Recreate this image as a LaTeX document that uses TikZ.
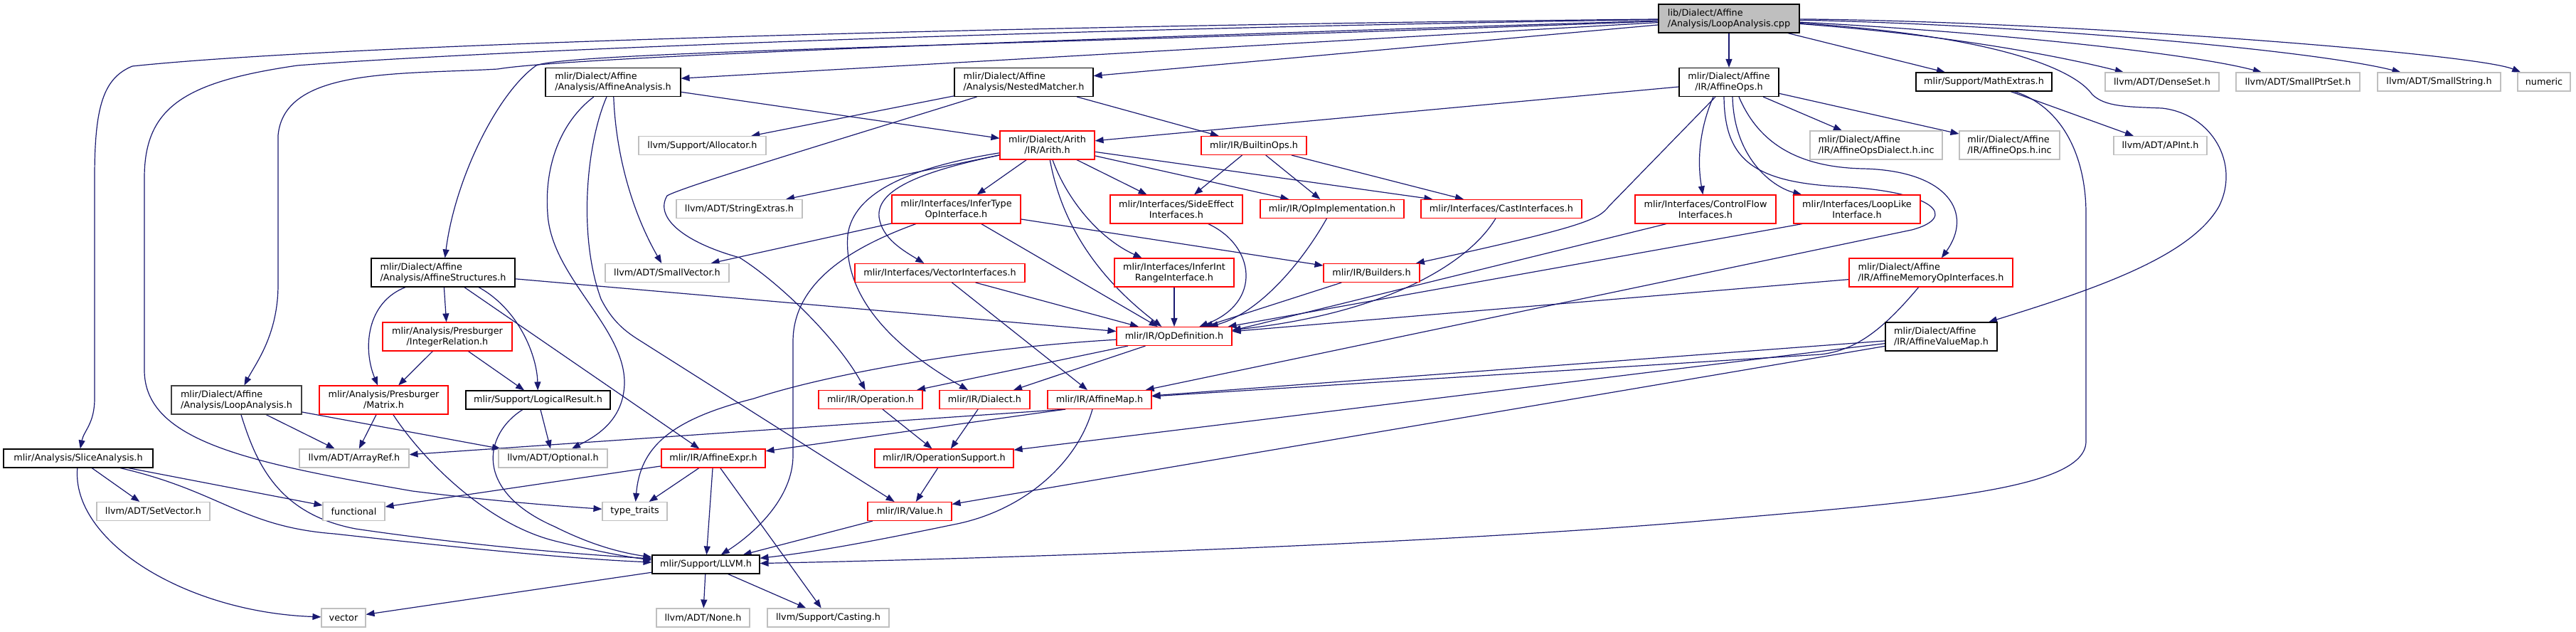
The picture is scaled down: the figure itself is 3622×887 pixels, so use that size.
\documentclass[tikz,border=0pt]{standalone}
\usepackage{fontspec}
\setmainfont{DejaVu Sans}
\usetikzlibrary{arrows.meta,backgrounds}
\definecolor{edgeblue}{HTML}{191970}
\definecolor{greyb}{HTML}{BFBFBF}
\definecolor{darkb}{HTML}{404040}
\tikzset{
  nb/.style={rectangle, draw, fill=white, inner sep=0pt, line width=1.1pt,
    font=\fontsize{12.8}{15}\selectfont, text=black},
  blk/.style={nb, draw=black},
  rd/.style={nb, draw=red},
  gr/.style={nb, draw=greyb},
  rootn/.style={nb, draw=black, fill=greyb},
  lineone/.style={minimum height=26pt},
  linetwo/.style={minimum height=40pt},
  e/.style={draw=edgeblue, line width=1.2pt, -{Triangle[length=12pt,width=9pt]}},
}
\begin{document}
\begin{tikzpicture}[x=1pt,y=-1pt]
\useasboundingbox (0,0) rectangle (3622,887);
% ---------- nodes ----------
\node[rootn, linetwo, align=left, minimum width=198pt] (root) at (2431,26) {lib/Dialect/Affine\\/Analysis/LoopAnalysis.cpp};
\node[blk, linetwo, align=left, minimum width=190pt] (AA) at (862,115.5) {mlir/Dialect/Affine\\/Analysis/AffineAnalysis.h};
\node[blk, linetwo, align=left, minimum width=195pt] (NM) at (1439.5,115.5) {mlir/Dialect/Affine\\/Analysis/NestedMatcher.h};
\node[blk, linetwo, align=center, minimum width=140pt] (AO) at (2431,115.5) {mlir/Dialect/Affine\\/IR/AffineOps.h};
\node[blk, lineone, minimum width=191pt] (ME) at (2789.5,115) {mlir/Support/MathExtras.h};
\node[gr, lineone, minimum width=160pt] (DenseSet) at (3040,115) {llvm/ADT/DenseSet.h};
\node[gr, lineone, minimum width=174pt] (SmallPtrSet) at (3231,115) {llvm/ADT/SmallPtrSet.h};
\node[gr, lineone, minimum width=173pt] (SmallString) at (3429.5,115) {llvm/ADT/SmallString.h};
\node[gr, lineone, minimum width=74pt] (numeric) at (3577,115) {numeric};
\node[gr, lineone, minimum width=179pt] (Allocator) at (987.5,204.5) {llvm/Support/Allocator.h};
\node[rd, linetwo, align=center, minimum width=133pt] (Arith) at (1472.5,204) {mlir/Dialect/Arith\\/IR/Arith.h};
\node[rd, lineone, minimum width=148pt] (BuiltinOps) at (1763,204.5) {mlir/IR/BuiltinOps.h};
\node[gr, linetwo, align=left, minimum width=186pt] (AODialect) at (2638,204) {mlir/Dialect/Affine\\/IR/AffineOpsDialect.h.inc};
\node[gr, linetwo, align=left, minimum width=141pt] (AOinc) at (2825.5,204) {mlir/Dialect/Affine\\/IR/AffineOps.h.inc};
\node[gr, lineone, minimum width=131pt] (APInt) at (3037.5,204.5) {llvm/ADT/APInt.h};
\node[gr, lineone, minimum width=177pt] (StringExtras) at (1039.5,293.5) {llvm/ADT/StringExtras.h};
\node[rd, linetwo, align=center, minimum width=181pt] (IT) at (1344.5,294) {mlir/Interfaces/InferType\\OpInterface.h};
\node[rd, linetwo, align=center, minimum width=186pt] (SideEffect) at (1654,294) {mlir/Interfaces/SideEffect\\Interfaces.h};
\node[rd, lineone, minimum width=202pt] (OpImpl) at (1873,293.5) {mlir/IR/OpImplementation.h};
\node[rd, lineone, minimum width=226pt] (Cast) at (2111,293.5) {mlir/Interfaces/CastInterfaces.h};
\node[rd, linetwo, align=center, minimum width=198pt] (ControlFlow) at (2398,294) {mlir/Interfaces/ControlFlow\\Interfaces.h};
\node[rd, linetwo, align=center, minimum width=178pt] (LoopLike) at (2611,294) {mlir/Interfaces/LoopLike\\Interface.h};
\node[blk, linetwo, align=left, minimum width=202pt] (AS) at (623,383) {mlir/Dialect/Affine\\/Analysis/AffineStructures.h};
\node[gr, lineone, minimum width=174pt] (SmallVector) at (938,383.5) {llvm/ADT/SmallVector.h};
\node[rd, lineone, minimum width=239pt] (VectorIf) at (1321.5,383.5) {mlir/Interfaces/VectorInterfaces.h};
\node[rd, linetwo, align=center, minimum width=168pt] (InferIntRange) at (1651,383) {mlir/Interfaces/InferInt\\RangeInterface.h};
\node[rd, lineone, minimum width=135pt] (Builders) at (1928.5,383.5) {mlir/IR/Builders.h};
\node[rd, linetwo, align=left, minimum width=230pt] (AffineMemOp) at (2715,383) {mlir/Dialect/Affine\\/IR/AffineMemoryOpInterfaces.h};
\node[rd, linetwo, align=center, minimum width=182pt] (IntegerRelation) at (629,473) {mlir/Analysis/Presburger\\/IntegerRelation.h};
\node[rd, lineone, minimum width=162pt] (OD) at (1651,472.5) {mlir/IR/OpDefinition.h};
\node[blk, linetwo, align=left, minimum width=157pt] (AV) at (2729.5,473) {mlir/Dialect/Affine\\/IR/AffineValueMap.h};
\node[nb, draw=darkb, linetwo, align=left, minimum width=183pt] (LA) at (332.5,562) {mlir/Dialect/Affine\\/Analysis/LoopAnalysis.h};
\node[rd, linetwo, align=center, minimum width=181pt] (Matrix) at (539.5,562) {mlir/Analysis/Presburger\\/Matrix.h};
\node[blk, lineone, minimum width=203pt] (LR) at (756.5,562) {mlir/Support/LogicalResult.h};
\node[rd, lineone, minimum width=146pt] (Operation) at (1224,561.5) {mlir/IR/Operation.h};
\node[rd, lineone, minimum width=127pt] (Dialect) at (1384.5,561.5) {mlir/IR/Dialect.h};
\node[rd, lineone, minimum width=146pt] (AffineMap) at (1546,561.5) {mlir/IR/AffineMap.h};
\node[blk, lineone, minimum width=210pt] (SA) at (110,644) {mlir/Analysis/SliceAnalysis.h};
\node[gr, lineone, minimum width=154pt] (ArrayRef) at (498,644) {llvm/ADT/ArrayRef.h};
\node[gr, lineone, minimum width=153pt] (Optional) at (777.5,644) {llvm/ADT/Optional.h};
\node[rd, lineone, minimum width=146pt] (AffineExpr) at (1003,644) {mlir/IR/AffineExpr.h};
\node[rd, lineone, minimum width=195pt] (OS) at (1327.5,644) {mlir/IR/OperationSupport.h};
\node[gr, lineone, minimum width=159pt] (SetVector) at (215.5,718.5) {llvm/ADT/SetVector.h};
\node[gr, lineone, minimum width=87pt] (func) at (497.5,718.5) {functional};
\node[gr, lineone, minimum width=91pt] (tt) at (892.5,718.5) {type\_traits};
\node[rd, lineone, minimum width=118pt] (Value) at (1279,718.5) {mlir/IR/Value.h};
\node[blk, lineone, minimum width=151pt] (LLVM) at (992.5,793) {mlir/Support/LLVM.h};
\node[gr, lineone, minimum width=62pt] (vec) at (483,868) {vector};
\node[gr, lineone, minimum width=131pt] (None) at (988.5,868) {llvm/ADT/None.h};
\node[gr, lineone, minimum width=171pt] (Casting) at (1164.5,868) {llvm/Support/Casting.h};
% ---------- edges ----------
\begin{scope}[on background layer]
% root
\draw[e] (root) -- (AA);
\draw[e] (root) -- (NM);
\draw[e] (root) -- (AO);
\draw[e] (root) -- (ME);
\draw[e] (root) .. controls (2750,50) and (2900,80) .. (DenseSet);
\draw[e] (root) .. controls (2800,45) and (3080,75) .. (SmallPtrSet);
\draw[e] (root) .. controls (2850,35) and (3250,70) .. (SmallString);
\draw[e] (root) .. controls (2900,30) and (3480,75) .. (numeric);
\draw[e] (root) .. controls (2800,50) and (2915,95) .. (2942,133) .. controls (2960,150) and (2990,150) .. (3040,152) .. controls (3110,160) and (3150,230) .. (3120,290) .. controls (3080,360) and (2950,405) .. (AV);
\draw[e] (root) .. controls (1500,62) and (800,72) .. (754,92) .. controls (700,130) and (640,250) .. (AS);
\draw[e] (root) .. controls (1500,55) and (800,80) .. (700,97) .. controls (560,105) and (400,95) .. (391,190) -- (391,400) .. controls (391,470) and (360,510) .. (LA);
\draw[e] (root) .. controls (1500,35) and (500,60) .. (186,93) .. controls (145,110) and (133,150) .. (133,250) -- (133,560) .. controls (133,595) and (118,605) .. (SA);
\draw[e] (root) .. controls (1500,40) and (700,70) .. (418,92) .. controls (260,115) and (203,150) .. (203,250) -- (203,520) .. controls (203,620) and (350,650) .. (580,690) .. controls (700,705) and (800,712) .. (tt);
% AffineAnalysis
\draw[e] (AA) -- (Arith);
\draw[e] (AA) .. controls (790,170) and (765,230) .. (770,300) .. controls (775,390) and (880,460) .. (878,540) .. controls (876,590) and (840,612) .. (Optional);
\draw[e] (AA) .. controls (825,200) and (812,330) .. (845,420) .. controls (865,460) and (890,472) .. (910,485) -- (Value);
\draw[e] (AA) .. controls (866,220) and (890,300) .. (SmallVector);
% NestedMatcher
\draw[e] (NM) -- (Allocator);
\draw[e] (NM) .. controls (1200,190) and (960,262) .. (938,275) .. controls (920,305) and (960,340) .. (1040,362) .. controls (1100,400) and (1180,480) .. (Operation);
\draw[e] (NM) -- (BuiltinOps);
% AffineOps
\draw[e] (AO) -- (Arith);
\draw[e] ([xshift=-19pt]AO.south) -- (2262,290) .. controls (2248,308) and (2230,318) .. (Builders);
\draw[e] ([xshift=-22pt]AO.south) .. controls (2392,175) and (2385,220) .. (ControlFlow);
\draw[e] ([xshift=5pt]AO.south) .. controls (2438,220) and (2490,262) .. (LoopLike);
\draw[e] ([xshift=14pt]AO.south) .. controls (2470,195) and (2520,235) .. (2620,237) .. controls (2740,240) and (2775,300) .. (AffineMemOp);
\draw[e] ([xshift=-7pt]AO.south) .. controls (2425,220) and (2460,255) .. (2583,262) .. controls (2720,268) and (2755,305) .. (2688,323) -- (AffineMap);
\draw[e] (AO) -- (AODialect);
\draw[e] (AO) -- (AOinc);
% MathExtras
\draw[e] (ME) -- (APInt);
\draw[e] (ME) .. controls (2900,150) and (2933,220) .. (2933,300) -- (2933,620) .. controls (2933,690) and (2700,705) .. (2380,733) .. controls (2000,765) and (1400,785) .. (LLVM);
% AffineMemoryOpInterfaces
\draw[e] (AffineMemOp) -- (OD);
\draw[e] (AffineMemOp) .. controls (2650,460) and (2612,492) .. (2560,498) -- (AffineMap);
% AffineValueMap
\draw[e] (AV) -- (AffineMap);
\draw[e] (AV) -- (OS);
\draw[e] (AV) -- (Value);
% AffineMap
\draw[e] ([xshift=-48pt]AffineMap.south) -- (AffineExpr);
\draw[e] ([xshift=-48pt]AffineMap.south) -- (ArrayRef);
\draw[e] ([xshift=-10pt]AffineMap.south) .. controls (1515,650) and (1440,718) .. (1341,737) .. controls (1230,760) and (1150,775) .. (LLVM);
% OpDefinition
\draw[e] (OD) -- (Operation);
\draw[e] (OD) -- (Dialect);
\draw[e] (OD) .. controls (1350,490) and (1150,530) .. (1060,560) .. controls (940,590) and (900,630) .. (tt);
% InferTypeOpInterface
\draw[e] (IT) -- (SmallVector);
\draw[e] (IT) .. controls (1190,350) and (1115,400) .. (1115,480) -- (1115,640) .. controls (1115,700) and (1060,750) .. (LLVM);
\draw[e] (IT) -- (OD);
\draw[e] (IT) -- (Builders);
% Arith
\draw[e] (Arith) -- (StringExtras);
\draw[e] (Arith) -- (IT);
\draw[e] (Arith) -- (SideEffect);
\draw[e] (Arith) -- (OpImpl);
\draw[e] (Arith) -- (Cast);
\draw[e] (Arith) .. controls (1300,240) and (1232,265) .. (1236,305) .. controls (1240,335) and (1270,352) .. (VectorIf);
\draw[e] (Arith) .. controls (1280,235) and (1200,270) .. (1192,330) .. controls (1185,420) and (1260,490) .. (Dialect);
\draw[e] (Arith) .. controls (1490,300) and (1530,380) .. (OD);
\draw[e] (Arith) .. controls (1500,280) and (1545,335) .. (InferIntRange);
% BuiltinOps
\draw[e] (BuiltinOps) -- (SideEffect);
\draw[e] (BuiltinOps) -- (OpImpl);
\draw[e] (BuiltinOps) -- (Cast);
% into OpDefinition
\draw[e] (SideEffect) .. controls (1765,345) and (1775,425) .. (OD);
\draw[e] (InferIntRange) -- (OD);
\draw[e] (VectorIf) -- (OD);
\draw[e] (VectorIf) -- (AffineMap);
\draw[e] (OpImpl) .. controls (1830,370) and (1770,440) .. (OD);
\draw[e] (Cast) .. controls (2065,370) and (1950,440) .. (OD);
\draw[e] (Builders) -- (OD);
\draw[e] ([xshift=-55pt]ControlFlow.south) -- ([yshift=8pt]OD.east);
\draw[e] ([xshift=-77pt]LoopLike.south) -- (OD);
% AffineStructures
\draw[e] (AS) -- (OD);
\draw[e] (AS) .. controls (515,425) and (510,490) .. (Matrix);
\draw[e] (AS) -- (IntegerRelation);
\draw[e] ([xshift=50pt]AS.south) .. controls (730,435) and (755,500) .. (LR);
\draw[e] (AS) -- (AffineExpr);
% IntegerRelation
\draw[e] (IntegerRelation) -- (Matrix);
\draw[e] (IntegerRelation) -- (LR);
% LoopAnalysis.h
\draw[e] (LA) -- (ArrayRef);
\draw[e] (LA) -- (Optional);
\draw[e] (LA) .. controls (360,650) and (390,722) .. (500,743) .. controls (650,765) and (800,778) .. ([yshift=8pt]LLVM.west);
% Matrix
\draw[e] (Matrix) -- (ArrayRef);
\draw[e] (Matrix) .. controls (590,640) and (680,735) .. (780,760) .. controls (840,775) and (880,782) .. ([yshift=6pt]LLVM.west);
% LogicalResult
\draw[e] (LR) -- (Optional);
\draw[e] (LR) .. controls (680,610) and (665,690) .. (780,740) .. controls (830,765) and (870,776) .. ([yshift=10pt]LLVM.west);
% SliceAnalysis
\draw[e] (SA) -- (SetVector);
\draw[e] (SA) -- (func);
\draw[e] (SA) .. controls (310,690) and (340,740) .. (470,750) .. controls (650,770) and (800,785) .. ([yshift=3pt]LLVM.west);
\draw[e] (SA) .. controls (100,760) and (260,860) .. (vec);
% AffineExpr
\draw[e] (AffineExpr) -- (func);
\draw[e] (AffineExpr) -- (tt);
\draw[e] (AffineExpr) -- (LLVM);
\draw[e] (AffineExpr) -- (Casting);
% rest
\draw[e] (Operation) -- (OS);
\draw[e] (Dialect) -- (OS);
\draw[e] (OS) -- (Value);
\draw[e] (Value) -- (LLVM);
\draw[e] (LLVM) -- (None);
\draw[e] (LLVM) -- (Casting);
\draw[e] (LLVM) -- (vec);
\end{scope}
\end{tikzpicture}
\end{document}
